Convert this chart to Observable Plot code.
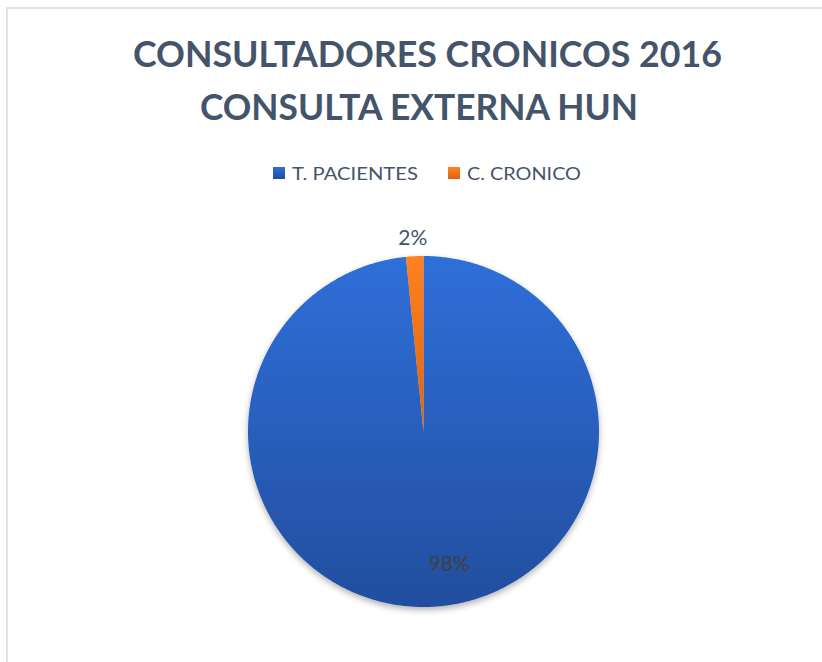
<!DOCTYPE html>
<html><head><meta charset="utf-8">
<script src="https://cdn.jsdelivr.net/npm/d3@7"></script>
<script src="https://cdn.jsdelivr.net/npm/@observablehq/plot@0.6"></script>
<style>
html,body{margin:0;padding:0;background:#fff;}
body{width:822px;height:662px;overflow:hidden;position:relative;font-family:Lato,sans-serif;}
#frame{position:absolute;left:6px;top:7px;width:900px;height:800px;border:2px solid #dfe3e8;box-sizing:border-box;}
#header{position:absolute;left:0;top:0;}
#chart{position:absolute;left:0;top:200px;}
</style></head><body>
<div id="frame"></div>
<svg id="header" width="822" height="200"></svg>
<div id="chart"></div>
<script>
// ---- data ----
const titleLines = ["CONSULTADORES CRONICOS 2016", "CONSULTA EXTERNA HUN"];
const categories = ["T. PACIENTES", "C. CRONICO"];
const values = [98.4, 1.6];

// ---- styles ----
const gradientStops = [["#2F6FD9", "#224E9E"], ["#FF8121", "#DE630F"]];
const textColor = "#44546A";

const data = categories.map((c, i) => ({name: c, value: values[i]}));
const total = d3.sum(values);
const arcs = d3.pie().sort(null).value(d => d.value)(data);

// polygon points for each slice (angles derived from data)
const pts = [];
arcs.forEach(a => {
  const name = a.data.name;
  pts.push({name, x: 0, y: 0});
  const n = Math.max(2, Math.ceil((a.endAngle - a.startAngle) / (Math.PI / 360)));
  for (let i = 0; i <= n; i++) {
    const t = a.startAngle + (a.endAngle - a.startAngle) * i / n;
    pts.push({name, x: Math.sin(t), y: Math.cos(t)});
  }
  pts.push({name, x: 0, y: 0});
});

const labelR = [0.76, 1.1];
const labels = arcs.map((a, i) => {
  const m = (a.startAngle + a.endAngle) / 2;
  return {name: a.data.name, x: Math.sin(m) * labelR[i], y: Math.cos(m) * labelR[i],
          text: Math.round(a.data.value / total * 100) + "%"};
});

const chart = Plot.plot({
  width: 822, height: 462, margin: 0,
  x: {domain: [-1, 1], range: [247.5, 598.5], axis: null},
  y: {domain: [-1, 1], range: [406.5, 55.5], axis: null},
  color: {domain: categories, range: categories.map((c, i) => `url(#grad${i})`)},
  style: {fontFamily: "Lato", background: "transparent", overflow: "visible"},
  marks: [
    Plot.line(pts, {x: "x", y: "y", z: "name", fill: "name", stroke: "none", curve: "linear"}),
    Plot.text(labels.filter((d, i) => i === 0), {x: "x", y: "y", text: "text", dx: 19, fill: "#404040", fontSize: 21}),
    Plot.text(labels.filter((d, i) => i === 1), {x: "x", y: "y", text: "text", dx: -1, fill: textColor, fontSize: 21})
  ]
});

const NS = "http://www.w3.org/2000/svg";
function addDefs(svg) {
  const defs = document.createElementNS(NS, "defs");
  gradientStops.forEach((s, i) => {
    const g = document.createElementNS(NS, "linearGradient");
    g.setAttribute("id", `grad${i}`);
    g.setAttribute("x1", "0"); g.setAttribute("y1", "0");
    g.setAttribute("x2", "0"); g.setAttribute("y2", "1");
    s.forEach((c, j) => {
      const st = document.createElementNS(NS, "stop");
      st.setAttribute("offset", j === 0 ? "0" : "1");
      st.setAttribute("stop-color", c);
      g.appendChild(st);
    });
    defs.appendChild(g);
  });
  const f = document.createElementNS(NS, "filter");
  f.setAttribute("id", "shadow");
  f.setAttribute("x", "-10%"); f.setAttribute("y", "-10%");
  f.setAttribute("width", "120%"); f.setAttribute("height", "125%");
  const ds = document.createElementNS(NS, "feDropShadow");
  ds.setAttribute("dx", "0"); ds.setAttribute("dy", "3");
  ds.setAttribute("stdDeviation", "3");
  ds.setAttribute("flood-color", "#000");
  ds.setAttribute("flood-opacity", "0.3");
  f.appendChild(ds);
  defs.appendChild(f);
  svg.insertBefore(defs, svg.firstChild);
}
addDefs(chart);
const lineG = chart.querySelector('g[aria-label="line"]');
if (lineG) lineG.setAttribute("filter", "url(#shadow)");
document.getElementById("chart").appendChild(chart);

// ---- header: title + legend ----
const header = d3.select("#header");
addDefs(header.node());
const titlePos = [{x: 133, y: 67, len: 589}, {x: 200, y: 120, len: 438}];
titleLines.forEach((t, i) => {
  header.append("text").attr("x", titlePos[i].x).attr("y", titlePos[i].y)
    .attr("textLength", titlePos[i].len).attr("lengthAdjust", "spacingAndGlyphs")
    .attr("font-family", "Lato").attr("font-weight", "bold").attr("font-size", 35.5)
    .attr("fill", textColor).text(t);
});
const legendPos = [{x: 273, len: 126}, {x: 448, len: 114}];
categories.forEach((c, i) => {
  header.append("rect").attr("x", legendPos[i].x).attr("y", 167).attr("width", 12).attr("height", 12)
    .attr("fill", `url(#grad${i})`);
  header.append("text").attr("x", legendPos[i].x + 19).attr("y", 180)
    .attr("textLength", legendPos[i].len).attr("lengthAdjust", "spacingAndGlyphs")
    .attr("font-family", "Lato").attr("font-size", 18)
    .attr("fill", textColor).text(c);
});
</script>
</body></html>
